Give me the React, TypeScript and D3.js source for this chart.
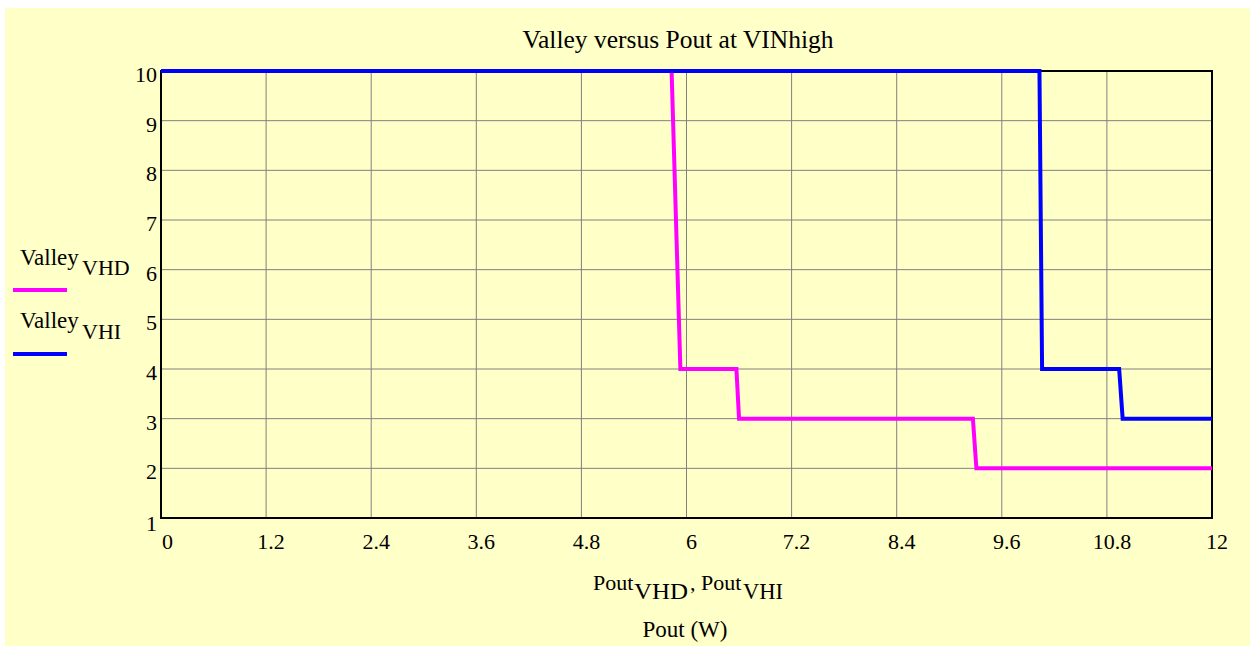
import React from "react";
import * as d3 from "d3";

const title = "Valley versus Pout at VINhigh";
const xTicks = [0, 1.2, 2.4, 3.6, 4.8, 6, 7.2, 8.4, 9.6, 10.8, 12];
const xTickLabels = ["0", "1.2", "2.4", "3.6", "4.8", "6", "7.2", "8.4", "9.6", "10.8", "12"];
const yTicks = [1, 2, 3, 4, 5, 6, 7, 8, 9, 10];

// Series VHD (magenta)
const poutVHD = [0, 5.83, 5.93, 6.57, 6.6, 9.27, 9.31, 12];
const valleyVHD = [10, 10, 4, 4, 3, 3, 2, 2];
// Series VHI (blue)
const poutVHI = [0, 10.03, 10.06, 10.94, 10.98, 12];
const valleyVHI = [10, 10, 4, 4, 3, 3];

const W = 1250;
const H = 646;
const left = 161, right = 1212, top = 71, bottom = 518;
const F = "Liberation Serif";
const st = (size: number): React.CSSProperties => ({ fontFamily: F, fontSize: size });

export default function App() {
  const x = d3.scaleLinear().domain([0, 12]).range([left, right]);
  const y = d3.scaleLinear().domain([1, 10]).range([bottom, top]);
  const line = d3
    .line<[number, number]>()
    .x((d) => x(d[0]))
    .y((d) => y(d[1]));
  const dVHD = line(poutVHD.map((p, i) => [p, valleyVHD[i]] as [number, number])) || "";
  const dVHI = line(poutVHI.map((p, i) => [p, valleyVHI[i]] as [number, number])) || "";

  return (
    <div style={{ position: "absolute", left: 0, top: 0 }}>
      <svg width={W} height={H} style={{ display: "block" }}>
        <rect x={0} y={0} width={W} height={H} fill="#ffffff" />
        <rect x={5} y={8} width={W - 5} height={H - 8} fill="#FFFFC8" />
        <text x={678} y={48} textAnchor="middle" style={st(25.5)} fill="#000">
          {title}
        </text>
        {/* grid */}
        {xTicks.slice(1, -1).map((t) => (
          <line key={"gx" + t} x1={x(t)} x2={x(t)} y1={top} y2={bottom} stroke="#808080" strokeWidth={1} />
        ))}
        {yTicks.slice(1, -1).map((t) => (
          <line key={"gy" + t} x1={left} x2={right} y1={y(t)} y2={y(t)} stroke="#808080" strokeWidth={1} />
        ))}
        {/* frame */}
        <rect x={left} y={top} width={right - left} height={bottom - top} fill="none" stroke="#000" strokeWidth={2} />
        {/* series */}
        <path d={dVHD} fill="none" stroke="#FF00FF" strokeWidth={4} strokeLinejoin="miter" />
        <path d={dVHI} fill="none" stroke="#0000FF" strokeWidth={4} strokeLinejoin="miter" />
        {/* y tick labels */}
        {yTicks.map((t) => (
          <text key={"yl" + t} x={157} y={y(t) + (t === 1 ? 13 : 11)} textAnchor="end" style={st(22)} fill="#000">
            {t}
          </text>
        ))}
        {/* x tick labels */}
        {xTicks.map((t, i) => (
          <text
            key={"xl" + t}
            x={i === 0 ? x(t) + 1 : x(t) + 5}
            y={549}
            textAnchor={i === 0 ? "start" : "middle"}
            style={st(22)}
            fill="#000"
          >
            {xTickLabels[i]}
          </text>
        ))}
        {/* legend */}
        <text x={20} y={265} style={st(23)} fill="#000">Valley</text>
        <text x={82} y={275} style={st(22)} fill="#000">VHD</text>
        <line x1={13} x2={67} y1={290} y2={290} stroke="#FF00FF" strokeWidth={4} />
        <text x={20} y={328} style={st(23)} fill="#000">Valley</text>
        <text x={82} y={339} style={st(22)} fill="#000">VHI</text>
        <line x1={13} x2={67} y1={354} y2={354} stroke="#0000FF" strokeWidth={4} />
        {/* x axis labels */}
        <text x={593} y={590} style={st(22)} fill="#000">Pout</text>
        <text x={634} y={599} style={st(23)} textLength={54} lengthAdjust="spacingAndGlyphs" fill="#000">VHD</text>
        <text x={690} y={590} style={st(22)} fill="#000">,</text>
        <text x={701} y={590} style={st(22)} fill="#000">Pout</text>
        <text x={743} y={599} style={st(23)} textLength={40} lengthAdjust="spacingAndGlyphs" fill="#000">VHI</text>
        <text x={685} y={637} textAnchor="middle" style={st(23)} fill="#000">
          Pout (W)
        </text>
      </svg>
    </div>
  );
}
